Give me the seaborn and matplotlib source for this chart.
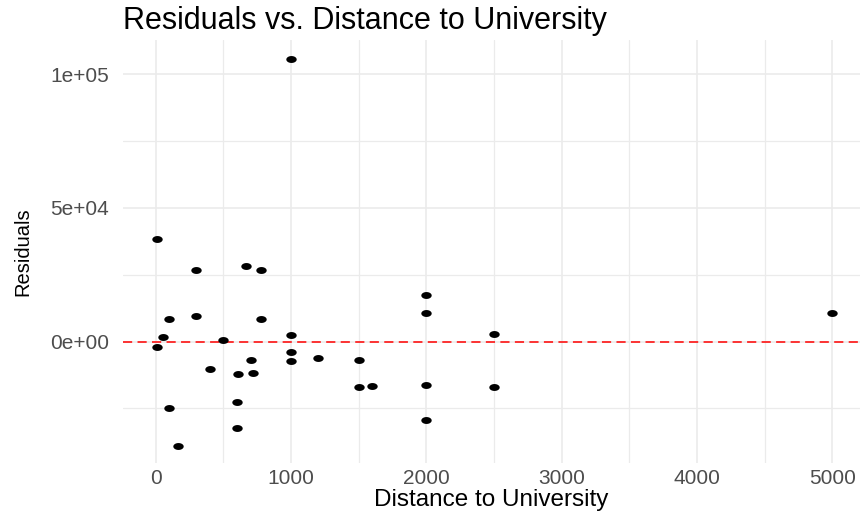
import numpy as np
import pandas as pd
import matplotlib
matplotlib.use("Agg")
import matplotlib.pyplot as plt
from matplotlib.path import Path
from matplotlib.ticker import FixedLocator, MultipleLocator
import seaborn as sns

# ---- data ----
distance = [10, 300, 665, 780, 100, 300, 780, 50, 10, 500,
            1000, 1000, 1000, 1200, 700, 400, 610, 720, 1500, 1500,
            1600, 100, 600, 600, 165, 2000, 2000, 2500, 2000, 2500,
            2000, 1000, 5000]
residuals = [38400, 26700, 28200, 26700, 8600, 9400, 8600, 1700, -1900, 600,
             2500, -3900, -7300, -6200, -6800, -10200, -12200, -11600, -6700, -17100,
             -16600, -24900, -22400, -32300, -39100, 17300, 10800, 3000, -16100, -17000,
             -29300, 105600, 10700]
x_ticks = [0, 1000, 2000, 3000, 4000, 5000]
x_tick_labels = ["0", "1000", "2000", "3000", "4000", "5000"]
y_ticks = [0, 50000, 100000]
y_tick_labels = ["0e+00", "5e+04", "1e+05"]
title = "Residuals vs. Distance to University"
x_label = "Distance to University"
y_label = "Residuals"

df = pd.DataFrame({"Distance": distance, "Residuals": residuals})

sns.set_theme(style="white")
plt.rcParams["font.family"] = ["Liberation Sans", "DejaVu Sans"]

W, H = 860, 516
fig = plt.figure(figsize=(W / 100, H / 100), dpi=100)
L, R, T, B = 123, 860, 40, 463
ax = fig.add_axes([L / W, 1 - B / H, (R - L) / W, (B - T) / H])

# wide (stretched) dots like in the reference
t = np.linspace(0, 2 * np.pi, 40)
ellipse = Path(np.column_stack([1.5 * np.cos(t), np.sin(t)]), closed=True)

ax.axhline(0, color="#FF0000", lw=1.1, ls=(0, (6, 3.5)), zorder=2)
sns.scatterplot(data=df, x="Distance", y="Residuals", ax=ax, color="black",
                marker=ellipse, s=56, linewidth=0, zorder=3)

ax.set_xlim(-243, 5206)
ax.set_ylim(-45400, 112800)

ax.xaxis.set_major_locator(FixedLocator(x_ticks))
ax.set_xticklabels(x_tick_labels)
ax.xaxis.set_minor_locator(MultipleLocator(500))
ax.yaxis.set_major_locator(FixedLocator(y_ticks))
ax.set_yticklabels(y_tick_labels)
ax.yaxis.set_minor_locator(MultipleLocator(25000))

ax.grid(which="major", color="#EBEBEB", lw=1.2, zorder=0)
ax.grid(which="minor", color="#EBEBEB", lw=0.9, zorder=0)
ax.set_axisbelow(True)
for s in ax.spines.values():
    s.set_visible(False)

ax.tick_params(axis="both", which="both", length=0, labelsize=15,
               labelcolor="#4D4D4D")
ax.tick_params(axis="x", pad=4)
ax.tick_params(axis="y", pad=10)

ax.set_xlabel(x_label, fontsize=17.5, color="black")
ax.set_ylabel(y_label, fontsize=14.5, color="black")
ax.xaxis.label.set_va("center")
ax.yaxis.label.set_va("center")
ax.xaxis.set_label_coords(0.5, (B - 500) / (B - T))
ax.yaxis.set_label_coords((23 - L) / (R - L), 0.5)

ax.set_title(title, loc="left", fontsize=22, color="black", pad=8)

fig.savefig("out.png", dpi=100, facecolor="white")
